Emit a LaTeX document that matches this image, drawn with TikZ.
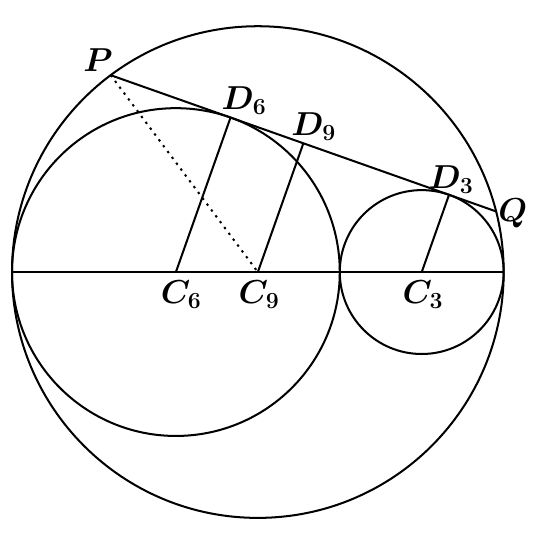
\documentclass[tikz,border=0pt]{standalone}
\usetikzlibrary{calc}
\begin{document}
\begin{tikzpicture}[x=0.5cm,y=0.5cm,
  geo/.style={line width=1.05pt},
  lab/.style={font=\LARGE\boldmath, inner sep=0pt}]
\useasboundingbox (-9.44,-9.59) rectangle (10.10,9.96);
% centres and points
\coordinate (C9) at (0,0);
\coordinate (C6) at (-3,0);
\coordinate (C3) at (6,0);
\coordinate (D6) at (-1,5.65685);
\coordinate (D9) at (1.66667,4.71405);
\coordinate (D3) at (7,2.82843);
\coordinate (P) at (-5.38837,7.20826);
\coordinate (Q) at (8.72170,2.21984);
\coordinate (L) at (-9,0);
\coordinate (R) at (9,0);
% circles
\draw[geo] (C9) circle (9);
\draw[geo] (C6) circle (6);
\draw[geo] (C3) circle (3);
% lines
\draw[geo] (L) -- (R);
\draw[geo] (P) -- (Q);
\draw[geo] (C6) -- (D6);
\draw[geo] (C9) -- (D9);
\draw[geo] (C3) -- (D3);
\draw[geo, dash pattern=on 1.2pt off 2.6pt] (P) -- (C9);
% labels
\node[lab] (lP) at (-5.85,7.76) {$P$};
\node[lab] (lD6) at (-0.5,6.29) {$D_6$};
\node[lab] (lD9) at (2.05,5.34) {$D_9$};
\node[lab] (lD3) at (7.08,3.40) {$D_3$};
\node[lab] (lQ) at (9.33,2.16) {$Q$};
\node[lab] (lC6) at (-2.8,-0.82) {$C_6$};
\node[lab] (lC9) at (0.05,-0.82) {$C_9$};
\node[lab] (lC3) at (6.05,-0.82) {$C_3$};
\end{tikzpicture}
\end{document}
